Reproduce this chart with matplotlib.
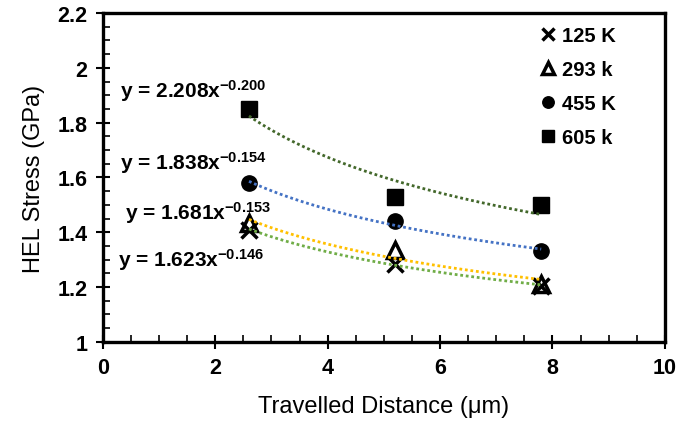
import matplotlib.pyplot as plt
import numpy as np
from matplotlib.ticker import MultipleLocator

plt.rcParams['font.family'] = ['Liberation Sans', 'DejaVu Sans']
plt.rcParams['mathtext.fontset'] = 'custom'
plt.rcParams['mathtext.rm'] = 'Liberation Sans:bold'
plt.rcParams['mathtext.it'] = 'Liberation Sans:bold'
plt.rcParams['mathtext.bf'] = 'Liberation Sans:bold'

# data
dist = [2.6, 5.2, 7.8]
t125 = [1.41, 1.285, 1.205]
t293 = [1.435, 1.335, 1.21]
t455 = [1.58, 1.44, 1.33]
t605 = [1.85, 1.53, 1.50]

labels = ['125 K', '293 k', '455 K', '605 k']
fit_text = ['y = 1.623x$^{-0.146}$', 'y = 1.681x$^{-0.153}$',
            'y = 1.838x$^{-0.154}$', 'y = 2.208x$^{-0.200}$']
fit_pos = [(0.27, 1.278), (0.39, 1.45), (0.3, 1.633), (0.3, 1.896)]
line_colors = ['#70ad47', '#ffc000', '#4472c4', '#43682b']

fig = plt.figure(figsize=(6.77, 4.27), dpi=100)
ax = fig.add_axes([0.152, 0.197, 0.83, 0.77])

series = [t125, t293, t455, t605]
x = np.array(dist)
xs = np.linspace(dist[0], dist[-1], 60)
for s, c in zip(series, line_colors):
    # power trendline, fitted in log space
    b, la = np.polyfit(np.log(x), np.log(s), 1)
    ax.plot(xs, np.exp(la) * xs ** b, color=c, linestyle=(0, (1, 1)),
            linewidth=2, zorder=3)

ax.plot(dist, t125, 'x', color='black', markersize=12, mew=2.5, label=labels[0], zorder=2)
ax.plot(dist, t293, '^', color='black', mfc='none', markersize=12, mew=2.5, label=labels[1], zorder=2)
ax.plot(dist, t455, 'o', color='black', markersize=11, label=labels[2], zorder=2)
ax.plot(dist, t605, 's', color='black', markersize=11, label=labels[3], zorder=2)

for t, (px, py) in zip(fit_text, fit_pos):
    ax.text(px, py, t, fontsize=15, fontweight='bold', va='baseline', ha='left')

ax.set_xlim(0, 10)
ax.set_ylim(1, 2.2)
ax.xaxis.set_major_locator(MultipleLocator(2))
ax.xaxis.set_minor_locator(MultipleLocator(0.5))
ax.yaxis.set_minor_locator(MultipleLocator(0.05))
ax.set_yticks(np.arange(1, 2.21, 0.2))
ax.set_yticklabels(['1', '1.2', '1.4', '1.6', '1.8', '2', '2.2'])
ax.tick_params(which='major', direction='inout', length=10, width=1.5,
               labelsize=15.5, pad=6)
ax.tick_params(which='minor', direction='in', length=5, width=1.2)
for lab in ax.get_xticklabels() + ax.get_yticklabels():
    lab.set_fontweight('bold')
for sp in ax.spines.values():
    sp.set_linewidth(2.4)

ax.set_xlabel('Travelled Distance (\u03bcm)', fontsize=17, labelpad=12)
ax.set_ylabel('HEL Stress (GPa)', fontsize=17, labelpad=9)

leg = ax.legend(loc='upper left', bbox_to_anchor=(0.763, 0.985), fontsize=14.5,
                markerscale=0.75, handlelength=0.8, handletextpad=0.3,
                labelspacing=0.75, borderaxespad=0.0, frameon=False)
for t in leg.get_texts():
    t.set_fontweight('bold')

fig.savefig('out.png', dpi=100)
